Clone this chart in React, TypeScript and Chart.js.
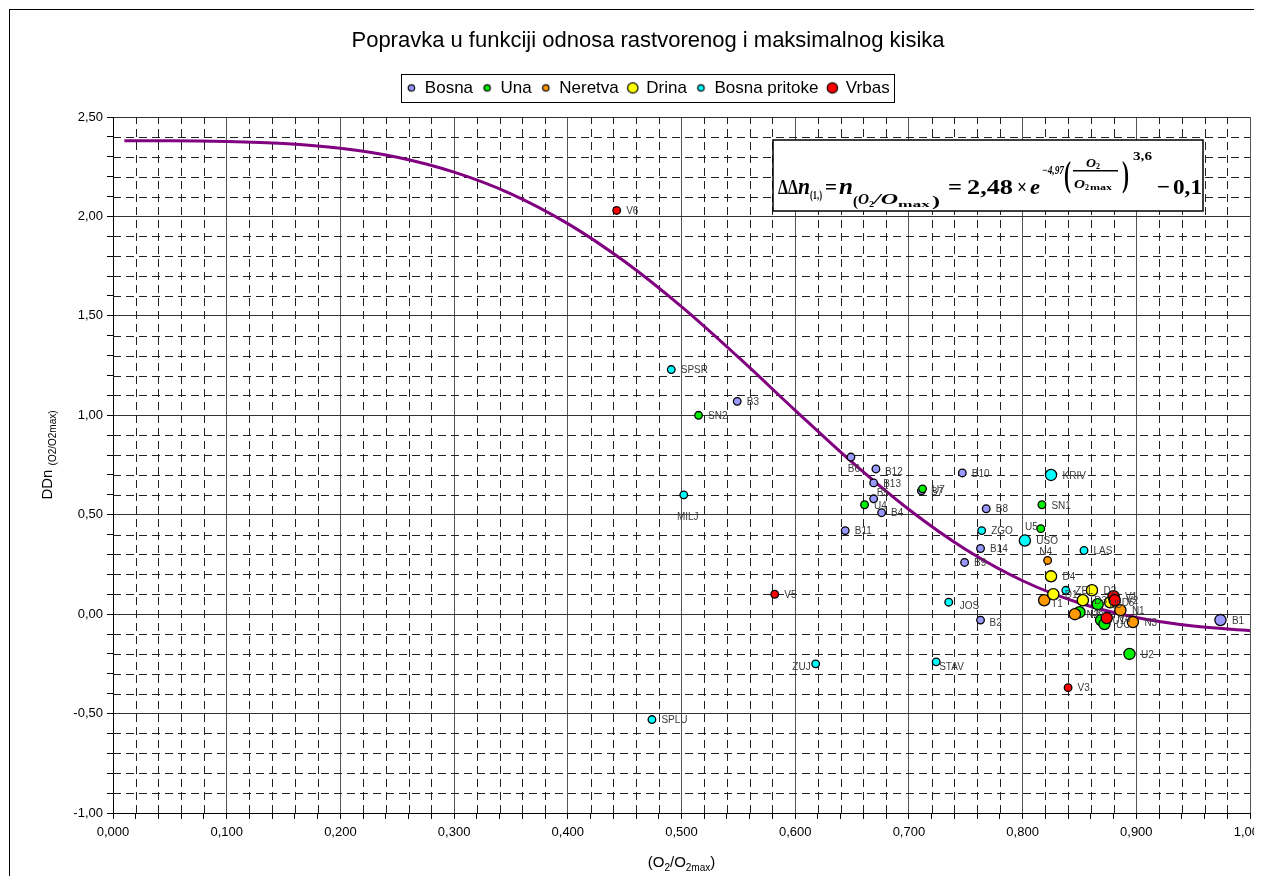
import React, { useEffect, useRef } from 'react';
import { Chart, registerables } from 'chart.js';

Chart.register(...registerables);

// ---------------- data ----------------
const chartTitle = 'Popravka u funkciji odnosa rastvorenog i maksimalnog kisika';
const seriesNames = ['Bosna', 'Una', 'Neretva', 'Drina', 'Bosna pritoke', 'Vrbas'];

const bosnaLabels = ['B3', 'B6', 'B12', 'B13', 'B5', 'B7', 'B4', 'B11', 'B10', 'B8', 'B14', 'B9', 'B2', 'B1'];
const bosnaX = [0.549, 0.649, 0.671, 0.669, 0.669, 0.711, 0.676, 0.644, 0.747, 0.768, 0.763, 0.749, 0.763, 0.974];
const bosnaY = [1.07, 0.79, 0.73, 0.66, 0.58, 0.62, 0.51, 0.42, 0.71, 0.53, 0.33, 0.26, -0.03, -0.03];

const unaLabels = ['SN2', 'U4', 'U7', 'SN1', 'U5', 'U3', 'U6', 'U1', 'UC', 'U2'];
const unaX = [0.515, 0.661, 0.712, 0.817, 0.816, 0.866, 0.850, 0.869, 0.872, 0.894];
const unaY = [1.0, 0.55, 0.63, 0.55, 0.43, 0.05, 0.01, -0.03, -0.05, -0.2];

const neretvaLabels = ['N4', 'T1', 'N2', 'N1', 'N3'];
const neretvaX = [0.822, 0.819, 0.846, 0.886, 0.897];
const neretvaY = [0.27, 0.07, 0.0, 0.02, -0.04];

const drinaLabels = ['D4', 'D1', 'D3', 'D2', 'D5'];
const drinaX = [0.825, 0.827, 0.853, 0.861, 0.877];
const drinaY = [0.19, 0.1, 0.07, 0.12, 0.06];

const pritokeLabels = ['SPSR', 'MILJ', 'KRIV', 'ZGO', 'USO', 'LAS', 'ZEL', 'JOS', 'STAV', 'ZUJ', 'SPLU'];
const pritokeX = [0.491, 0.502, 0.825, 0.764, 0.802, 0.854, 0.838, 0.735, 0.724, 0.618, 0.474];
const pritokeY = [1.23, 0.6, 0.7, 0.42, 0.37, 0.32, 0.12, 0.06, -0.24, -0.25, -0.53];

const vrbasLabels = ['V6', 'V5', 'V3', 'V1', 'V2', 'V4'];
const vrbasX = [0.443, 0.582, 0.84, 0.88, 0.881, 0.874];
const vrbasY = [2.03, 0.1, -0.37, 0.09, 0.07, -0.02];

// fitted curve
const curveX = [0.01, 0.05, 0.1, 0.15, 0.2, 0.25, 0.3, 0.35, 0.4, 0.45, 0.5, 0.55, 0.6, 0.65, 0.7, 0.75, 0.8, 0.85, 0.9, 0.95, 1.0];
const curveY = [2.38, 2.38, 2.377, 2.367, 2.343, 2.298, 2.223, 2.114, 1.964, 1.773, 1.546, 1.292, 1.025, 0.764, 0.526, 0.325, 0.168, 0.056, -0.017, -0.06, -0.083];

const xTickLabels = ['0,000', '0,100', '0,200', '0,300', '0,400', '0,500', '0,600', '0,700', '0,800', '0,900', '1,000'];
const yTickLabels = ['-1,00', '-0,50', '0,00', '0,50', '1,00', '1,50', '2,00', '2,50'];

// ---------------- styles ----------------
const seriesColors = ['#9999FF', '#00EE00', '#FF9900', '#FFFF00', '#00FFFF', '#FF0000'];
const legendMarkerRadius = [3.2, 3.2, 3.2, 5.2, 3.2, 5.2];
const largeMarkers = new Set([
  'B1', 'KRIV', 'USO', 'U2', 'U3', 'U6', 'U1', 'UC', 'T1', 'N2', 'N1', 'N3',
  'D4', 'D1', 'D3', 'D2', 'D5', 'V1', 'V2', 'V4',
]);
const labelOffsets: Record<string, [number, number, CanvasTextAlign]> = {
  B6: [3, 12, 'center'],
  MILJ: [4, 22, 'center'],
  ZUJ: [-5, 3, 'right'],
  U5: [-3, -1, 'right'],
  N4: [-2, -8, 'center'],
  STAV: [3, 5, 'left'],
  JOS: [11, 4, 'left'],
  B2: [9, 3, 'left'],
  T1: [7, 4, 'left'],
  B5: [3, -6, 'left'],
  B12: [9, 3, 'left'],
};

const SANS = '"Liberation Sans", Arial, sans-serif';
const SERIF = '"Liberation Serif", "Times New Roman", serif';
Chart.defaults.font.family = SANS;
Chart.defaults.color = '#000';

const CANVAS_W = 1280;
const CANVAS_H = 868;

function makeMarker(color: string, r: number): HTMLCanvasElement {
  const c = document.createElement('canvas');
  const s = Math.ceil(2 * r + 4);
  c.width = s;
  c.height = s;
  const g = c.getContext('2d')!;
  g.beginPath();
  g.arc(s / 2, s / 2, r, 0, Math.PI * 2);
  g.fillStyle = color;
  g.fill();
  g.lineWidth = 1.2;
  g.strokeStyle = '#000';
  g.stroke();
  return c;
}

const isMajorX = (v: number) => {
  const k = Math.round(v * 50);
  return Math.abs(v * 50 - k) < 1e-6 && k % 5 === 0;
};
const isMajorY = (v: number) => {
  const k = Math.round(v * 10);
  return Math.abs(v * 10 - k) < 1e-6 && k % 5 === 0;
};

function drawScaled(ctx: CanvasRenderingContext2D, text: string, font: string, x0: number, x1: number, base: number, sy = 1) {
  ctx.save();
  ctx.font = font;
  const w = ctx.measureText(text).width || 1;
  ctx.translate(x0, base);
  ctx.scale((x1 - x0) / w, sy);
  ctx.fillText(text, 0, 0);
  ctx.restore();
}

const legendSpacer = {
  id: 'legendSpacer',
  beforeInit(chart: any) {
    const legend = chart.legend;
    if (!legend) return;
    const orig = legend.fit;
    legend.fit = function () {
      orig.call(this);
      this.height += 10.6;
    };
  },
};

const backgroundPlugin = {
  id: 'bgFrame',
  beforeDraw(chart: any) {
    const ctx = chart.ctx as CanvasRenderingContext2D;
    ctx.save();
    ctx.fillStyle = '#fff';
    ctx.fillRect(0, 0, chart.width, chart.height);
    ctx.fillStyle = '#000';
    ctx.fillRect(1, 1, 1, chart.height);
    ctx.fillRect(1, 1, chart.width, 1);
    ctx.restore();
  },
};

const minorGridPlugin = {
  id: 'minorGrid',
  beforeDatasetsDraw(chart: any) {
    const ctx = chart.ctx as CanvasRenderingContext2D;
    const { left, right, top, bottom } = chart.chartArea;
    const xs = chart.scales.x;
    const ys = chart.scales.y;
    ctx.save();
    ctx.strokeStyle = '#222';
    ctx.lineWidth = 1;
    ctx.setLineDash([8, 5]);
    for (let k = 1; k < 50; k++) {
      if (k % 5 === 0) continue;
      const px = Math.round(xs.getPixelForValue(k * 0.02)) + 0.5;
      ctx.beginPath();
      ctx.moveTo(px, bottom);
      ctx.lineTo(px, top);
      ctx.stroke();
    }
    for (let k = -9; k < 25; k++) {
      if (k % 5 === 0) continue;
      const py = Math.round(ys.getPixelForValue(k * 0.1)) + 0.5;
      ctx.beginPath();
      ctx.moveTo(left, py);
      ctx.lineTo(right, py);
      ctx.stroke();
    }
    ctx.restore();
  },
};

const pointLabelPlugin = {
  id: 'pointLabels',
  afterDatasetsDraw(chart: any) {
    const ctx = chart.ctx as CanvasRenderingContext2D;
    ctx.save();
    ctx.font = `10px ${SANS}`;
    ctx.fillStyle = '#3a3a3a';
    ctx.textBaseline = 'middle';
    chart.data.datasets.forEach((ds: any, di: number) => {
      const names: string[] | undefined = ds.pointNames;
      if (!names) return;
      const meta = chart.getDatasetMeta(di);
      meta.data.forEach((el: any, i: number) => {
        const name = names[i];
        const big = largeMarkers.has(name);
        const off = labelOffsets[name] || [big ? 11.5 : 9.5, 1, 'left'];
        ctx.textAlign = off[2];
        ctx.fillText(name, el.x + off[0], el.y + off[1]);
      });
    });
    ctx.restore();
  },
};

const annotationPlugin = {
  id: 'annotations',
  afterDraw(chart: any) {
    const ctx = chart.ctx as CanvasRenderingContext2D;
    const area = chart.chartArea;
    ctx.save();
    ctx.fillStyle = '#000';
    ctx.strokeStyle = '#000';

    // legend frame
    const hb = chart.legend?.legendHitBoxes;
    if (hb && hb.length) {
      const first = hb[0];
      const last = hb[hb.length - 1];
      const cy = first.top + first.height / 2;
      const l = Math.round(first.left - 5) + 0.5;
      const r = Math.round(last.left + last.width + 4) + 0.5;
      ctx.lineWidth = 1;
      ctx.strokeRect(l, Math.round(cy - 14) + 0.5, r - l, 28);
    }

    // formula box
    const bx = 765, by = 132, bw = 430, bh = 71;
    ctx.fillStyle = '#fff';
    ctx.fillRect(bx, by, bw, bh);
    ctx.lineWidth = 1.5;
    ctx.strokeRect(bx, by, bw, bh);
    ctx.fillStyle = '#000';
    ctx.textBaseline = 'alphabetic';
    ctx.textAlign = 'left';
    const B22 = `bold 22px ${SERIF}`;
    const BI24 = `bold italic 24px ${SERIF}`;
    const BI13 = `bold italic 14px ${SERIF}`;
    const B8 = `bold 9px ${SERIF}`;
    const BI11 = `bold italic 12px ${SERIF}`;
    const B11 = `bold 12px ${SERIF}`;
    const B7 = `bold 8px ${SERIF}`;
    const P = `bold 24px ${SERIF}`;
    drawScaled(ctx, 'ΔΔ', B22, 770, 790, 186);
    drawScaled(ctx, 'n', BI24, 790, 802, 186);
    drawScaled(ctx, '(1,)', `bold 13px ${SERIF}`, 802, 814, 191);
    drawScaled(ctx, '=', B22, 817, 829, 186);
    drawScaled(ctx, 'n', BI24, 831, 845, 186);
    drawScaled(ctx, '(', `bold 15px ${SERIF}`, 845, 850, 198);
    drawScaled(ctx, 'O', BI13, 850, 861, 196);
    drawScaled(ctx, '2', B8, 861, 866, 199);
    drawScaled(ctx, '/O', BI13, 866, 890, 196);
    drawScaled(ctx, 'max', B8, 890, 922, 199);
    drawScaled(ctx, ')', `bold 15px ${SERIF}`, 924, 932, 198);
    drawScaled(ctx, '=', B22, 940, 954, 186);
    drawScaled(ctx, '2,48', B22, 959, 1005, 186);
    drawScaled(ctx, '×', B22, 1009, 1019, 186);
    drawScaled(ctx, 'e', `bold italic 22px ${SERIF}`, 1022, 1032, 186);
    drawScaled(ctx, '−4,97', BI11, 1034, 1056, 166);
    drawScaled(ctx, '(', P, 1056, 1063, 178, 1.45);
    drawScaled(ctx, 'O', BI11, 1078, 1088, 159);
    drawScaled(ctx, '2', B7, 1088, 1092, 161);
    ctx.fillRect(1065, 162, 45, 1.5);
    drawScaled(ctx, 'O', BI11, 1066, 1077, 180);
    drawScaled(ctx, '2', B7, 1077, 1081, 182);
    drawScaled(ctx, 'max', B7, 1082, 1104, 182);
    drawScaled(ctx, ')', P, 1114, 1121, 178, 1.45);
    drawScaled(ctx, '3,6', B11, 1125, 1144, 152);
    drawScaled(ctx, '−', B22, 1149, 1162, 186);
    drawScaled(ctx, '0,1', B22, 1165, 1194, 186);

    // y axis title: DDn (O2/O2max)
    ctx.save();
    ctx.translate(39, 447);
    ctx.rotate(-Math.PI / 2);
    ctx.font = `15px ${SANS}`;
    const t1 = 'DDn ';
    const w1 = ctx.measureText(t1).width;
    ctx.font = `10px ${SANS}`;
    const t2 = '(O2/O2max)';
    const w2 = ctx.measureText(t2).width;
    const sx = -(w1 + w2) / 2;
    ctx.font = `15px ${SANS}`;
    ctx.fillText(t1, sx, 5);
    ctx.font = `10px ${SANS}`;
    ctx.fillText(t2, sx + w1, 9);
    ctx.restore();

    // x axis title: (O2/O2max)
    const parts: [string, boolean][] = [['(O', false], ['2', true], ['/O', false], ['2max', true], [')', false]];
    let total = 0;
    parts.forEach(([t, sub]) => {
      ctx.font = sub ? `10px ${SANS}` : `15px ${SANS}`;
      total += ctx.measureText(t).width;
    });
    let x = (area.left + area.right) / 2 - total / 2;
    parts.forEach(([t, sub]) => {
      ctx.font = sub ? `10px ${SANS}` : `15px ${SANS}`;
      ctx.fillText(t, x, sub ? 863 : 859);
      x += ctx.measureText(t).width;
    });
    ctx.restore();
  },
};

function pts(xs: number[], ys: number[]) {
  return xs.map((x, i) => ({ x, y: ys[i] }));
}

export default function App() {
  const ref = useRef<HTMLCanvasElement>(null);

  useEffect(() => {
    document.documentElement.style.overflow = 'hidden';
    document.body.style.overflow = 'hidden';
    const canvas = ref.current!;
    const groups = [
      { names: bosnaLabels, xs: bosnaX, ys: bosnaY },
      { names: unaLabels, xs: unaX, ys: unaY },
      { names: neretvaLabels, xs: neretvaX, ys: neretvaY },
      { names: drinaLabels, xs: drinaX, ys: drinaY },
      { names: pritokeLabels, xs: pritokeX, ys: pritokeY },
      { names: vrbasLabels, xs: vrbasX, ys: vrbasY },
    ];
    const markers = seriesColors.map((c, i) => makeMarker(c, legendMarkerRadius[i]));

    const datasets: any[] = groups.map((g, i) => ({
      label: seriesNames[i],
      data: pts(g.xs, g.ys),
      pointNames: g.names,
      backgroundColor: seriesColors[i],
      borderColor: '#000',
      borderWidth: 1.3,
      pointRadius: (c: any) => (largeMarkers.has(g.names[c.dataIndex]) ? 5.6 : 3.8),
      pointHoverRadius: (c: any) => (largeMarkers.has(g.names[c.dataIndex]) ? 5.6 : 3.8),
      showLine: false,
      order: 6 - i,
    }));
    datasets.push({
      label: 'fit',
      data: pts(curveX, curveY),
      showLine: true,
      borderColor: '#800080',
      backgroundColor: '#800080',
      borderWidth: 3,
      pointRadius: 0,
      pointHoverRadius: 0,
      cubicInterpolationMode: 'monotone',
      fill: false,
      order: 20,
    });

    const chart = new Chart(canvas, {
      type: 'scatter',
      data: { datasets },
      options: {
        animation: false,
        responsive: false,
        maintainAspectRatio: false,
        events: [],
        layout: { padding: { left: 0, right: 0, top: 0, bottom: 0 } },
        plugins: {
          tooltip: { enabled: false },
          title: {
            display: true,
            text: chartTitle,
            color: '#000',
            font: { size: 22, weight: 'normal', family: SANS },
            padding: { top: 20, bottom: 16 },
          },
          legend: {
            display: true,
            position: 'top',
            labels: {
              usePointStyle: true,
              boxWidth: 10,
              boxHeight: 10,
              padding: 9,
              color: '#000',
              font: { size: 17, family: SANS },
              generateLabels: () =>
                seriesNames.map((name, i) => ({
                  text: name,
                  pointStyle: markers[i],
                  fillStyle: seriesColors[i],
                  strokeStyle: '#000',
                  lineWidth: 0,
                  hidden: false,
                  datasetIndex: i,
                  fontColor: '#000',
                })) as any,
            },
          },
        },
        scales: {
          x: {
            type: 'linear',
            min: 0,
            max: 1,
            afterFit: (s: any) => {
              s.height = 63;
              s.paddingRight = 38;
              s.paddingLeft = 0;
            },
            border: { display: true, color: '#000', width: 1 },
            grid: {
              color: (c: any) => (c.tick && isMajorX(c.tick.value) ? '#555' : 'rgba(0,0,0,0)'),
              lineWidth: 1,
              tickColor: '#000',
              tickLength: 6,
              drawTicks: true,
            },
            ticks: {
              stepSize: 0.02,
              autoSkip: false,
              maxRotation: 0,
              minRotation: 0,
              padding: 6,
              color: '#000',
              font: { size: 13, family: SANS },
              callback: (v: any) => {
                const n = Number(v);
                if (!isMajorX(n)) return '';
                return xTickLabels[Math.round(n * 10)] ?? '';
              },
            },
          },
          y: {
            type: 'linear',
            min: -1,
            max: 2.5,
            afterFit: (s: any) => {
              s.width = 105;
            },
            border: { display: true, color: '#000', width: 1 },
            grid: {
              color: (c: any) => (c.tick && isMajorY(c.tick.value) ? '#333' : 'rgba(0,0,0,0)'),
              lineWidth: 1,
              tickColor: '#000',
              tickLength: 6,
              drawTicks: true,
            },
            ticks: {
              stepSize: 0.1,
              autoSkip: false,
              padding: 4,
              color: '#000',
              font: { size: 13, family: SANS },
              callback: (v: any) => {
                const n = Number(v);
                if (!isMajorY(n)) return '';
                return yTickLabels[Math.round(n * 2) + 2] ?? '';
              },
            },
          },
        },
      },
      plugins: [legendSpacer, backgroundPlugin, minorGridPlugin, pointLabelPlugin, annotationPlugin],
    } as any);

    return () => chart.destroy();
  }, []);

  return (
    <div style={{ width: 1254, height: 868, overflow: 'hidden', position: 'relative' }}>
      <canvas ref={ref} width={CANVAS_W} height={CANVAS_H} style={{ display: 'block', width: CANVAS_W, height: CANVAS_H }} />
    </div>
  );
}
